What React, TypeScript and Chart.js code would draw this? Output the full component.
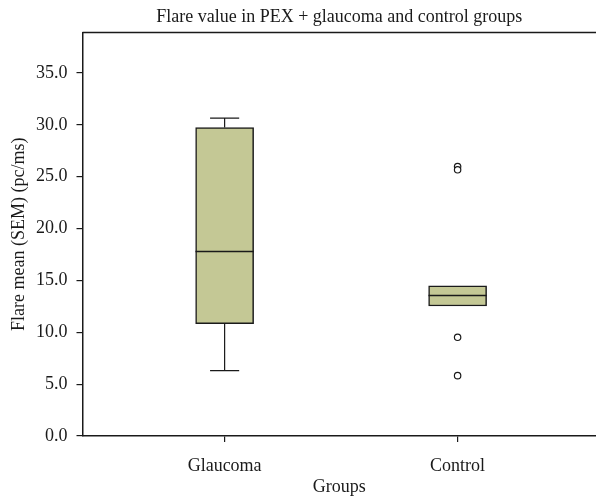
import React, { useEffect, useRef } from "react";
import { Chart, registerables } from "chart.js";

Chart.register(...registerables);

const categories = ["Glaucoma", "Control"];
const categoryPositions = [1, 2];
const whiskerLow = [6.3, 12.54];
const q1 = [10.84, 12.54];
const median = [17.78, 13.54];
const q3 = [29.75, 14.47];
const whiskerHigh = [30.66, 14.47];
const outliers = [
  { group: 2, value: 25.99 },
  { group: 2, value: 25.67 },
  { group: 2, value: 9.52 },
  { group: 2, value: 5.82 },
];
const yTicks = [0, 5, 10, 15, 20, 25, 30, 35];

const FONT = "'Liberation Serif', 'DejaVu Serif', serif";
const INK = "#1a1a1a";
const FS = 18;

const boxExtras = {
  id: "boxExtras",
  afterDatasetsDraw(chart: any) {
    const { ctx, chartArea, scales } = chart;
    const xs = scales.x;
    const ys = scales.y;
    ctx.save();
    ctx.strokeStyle = INK;
    ctx.lineWidth = 1.5;
    ctx.beginPath();
    ctx.moveTo(chartArea.left, chartArea.top);
    ctx.lineTo(chartArea.right, chartArea.top);
    ctx.stroke();

    const capHalf = 0.0625;
    const boxHalf = 0.125;
    categoryPositions.forEach((pos, i) => {
      const cx = xs.getPixelForValue(pos);
      ctx.strokeStyle = INK;
      ctx.lineWidth = 1.2;
      if (whiskerHigh[i] > q3[i]) {
        ctx.beginPath();
        ctx.moveTo(cx, ys.getPixelForValue(q3[i]));
        ctx.lineTo(cx, ys.getPixelForValue(whiskerHigh[i]));
        ctx.moveTo(xs.getPixelForValue(pos - capHalf), ys.getPixelForValue(whiskerHigh[i]));
        ctx.lineTo(xs.getPixelForValue(pos + capHalf), ys.getPixelForValue(whiskerHigh[i]));
        ctx.stroke();
      }
      if (whiskerLow[i] < q1[i]) {
        ctx.beginPath();
        ctx.moveTo(cx, ys.getPixelForValue(q1[i]));
        ctx.lineTo(cx, ys.getPixelForValue(whiskerLow[i]));
        ctx.moveTo(xs.getPixelForValue(pos - capHalf), ys.getPixelForValue(whiskerLow[i]));
        ctx.lineTo(xs.getPixelForValue(pos + capHalf), ys.getPixelForValue(whiskerLow[i]));
        ctx.stroke();
      }
      ctx.lineWidth = 1.5;
      ctx.beginPath();
      ctx.moveTo(xs.getPixelForValue(pos - boxHalf), ys.getPixelForValue(median[i]));
      ctx.lineTo(xs.getPixelForValue(pos + boxHalf), ys.getPixelForValue(median[i]));
      ctx.stroke();
    });
    ctx.restore();
  },
};

export default function App() {
  const ref = useRef<HTMLCanvasElement | null>(null);
  useEffect(() => {
    if (!ref.current) return;
    const chart = new Chart(ref.current, {
      type: "bar",
      data: {
        datasets: [
          {
            type: "bar",
            data: categoryPositions.map((p, i) => ({ x: p, y: [q1[i], q3[i]] })) as any,
            backgroundColor: "rgb(196,200,149)",
            borderColor: INK,
            borderWidth: 1.5,
            borderSkipped: false,
            barThickness: 58,
          } as any,
          {
            type: "scatter",
            data: outliers.map((o) => ({ x: o.group, y: o.value })),
            pointRadius: 3.2,
            pointBackgroundColor: "#ffffff",
            pointBorderColor: INK,
            pointBorderWidth: 1.2,
          } as any,
        ],
      },
      options: {
        responsive: false,
        animation: false,
        events: [],
        layout: { autoPadding: false, padding: { left: 0, right: 0, top: 0, bottom: 0 } },
        plugins: {
          legend: { display: false },
          tooltip: { enabled: false },
          title: {
            display: true,
            fullSize: false,
            text: "Flare value in PEX + glaucoma and control groups",
            color: INK,
            font: { family: FONT, size: FS, weight: "normal" },
            padding: { top: 6, bottom: 5 },
          },
        },
        scales: {
          x: {
            type: "linear",
            min: 0.39,
            max: 2.594,
            offset: false,
            afterBuildTicks: (axis: any) => {
              axis.ticks = categoryPositions.map((v) => ({ value: v }));
            },
            afterFit: (scale: any) => {
              scale.height = 62;
              scale.paddingRight = 0;
              scale.paddingLeft = 0;
            },
            ticks: {
              color: INK,
              font: { family: FONT, size: FS },
              padding: 13,
              autoSkip: false,
              maxRotation: 0,
              callback: (v: any) => {
                const idx = categoryPositions.indexOf(Number(v));
                return idx >= 0 ? categories[idx] : "";
              },
            },
            grid: {
              display: true,
              offset: false,
              drawOnChartArea: false,
              drawTicks: true,
              tickLength: 6,
              color: INK,
              lineWidth: 1.2,
            },
            border: { display: true, color: INK, width: 1.5 },
            title: {
              display: true,
              text: "Groups",
              color: INK,
              font: { family: FONT, size: FS },
              padding: { top: 0, bottom: 0 },
            },
          },
          y: {
            type: "linear",
            min: 0,
            max: 38.9,
            afterBuildTicks: (axis: any) => {
              axis.ticks = yTicks.map((v) => ({ value: v }));
            },
            afterFit: (scale: any) => {
              scale.width = 82.5;
              scale.paddingTop = 0;
              scale.paddingBottom = 0;
            },
            ticks: {
              color: INK,
              font: { family: FONT, size: FS },
              padding: 9,
              callback: (v: any) => Number(v).toFixed(1),
            },
            grid: {
              display: true,
              drawOnChartArea: false,
              drawTicks: true,
              tickLength: 6,
              color: INK,
              lineWidth: 1.2,
            },
            border: { display: true, color: INK, width: 1.5 },
            title: {
              display: true,
              text: "Flare mean (SEM) (pc/ms)",
              color: INK,
              font: { family: FONT, size: FS },
              padding: { top: 8, bottom: 4 },
            },
          },
        },
      } as any,
      plugins: [boxExtras],
    });
    return () => chart.destroy();
  }, []);
  return (
    <div style={{ position: "absolute", left: 0, top: 0, width: 596, height: 498, background: "#fff" }}>
      <canvas ref={ref} width={596} height={498} style={{ width: 596, height: 498, display: "block" }} />
    </div>
  );
}
